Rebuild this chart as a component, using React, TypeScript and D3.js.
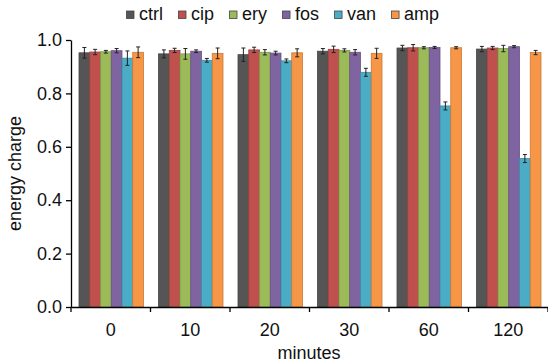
import React, { useRef, useEffect } from "react";
import * as d3 from "d3";

const minutes = ["0", "10", "20", "30", "60", "120"];
const seriesNames = ["ctrl", "cip", "ery", "fos", "van", "amp"];
const seriesColors = ["#555555", "#c0504d", "#9bbb59", "#8064a2", "#4bacc6", "#f79646"];

const ctrl = [0.952, 0.948, 0.945, 0.958, 0.97, 0.966];
const ctrlErr = [0.02, 0.015, 0.025, 0.01, 0.01, 0.01];
const cip = [0.955, 0.961, 0.963, 0.965, 0.971, 0.97];
const cipErr = [0.01, 0.008, 0.01, 0.012, 0.012, 0.006];
const ery = [0.956, 0.948, 0.954, 0.961, 0.971, 0.968];
const eryErr = [0.005, 0.02, 0.01, 0.006, 0.004, 0.012];
const fos = [0.96, 0.958, 0.951, 0.954, 0.972, 0.975];
const fosErr = [0.008, 0.005, 0.007, 0.01, 0.004, 0.004];
const van = [0.932, 0.924, 0.922, 0.879, 0.753, 0.556];
const vanErr = [0.027, 0.007, 0.007, 0.015, 0.015, 0.015];
const amp = [0.954, 0.95, 0.952, 0.95, 0.971, 0.953];
const ampErr = [0.02, 0.02, 0.015, 0.019, 0.004, 0.008];

const yTicks = [0, 0.2, 0.4, 0.6, 0.8, 1.0];

const W = 548;
const H = 363;
const FONT = "'Liberation Sans', Arial, Helvetica, sans-serif";
const FS = "18px";

function App() {
  const svgRef = useRef(null);

  useEffect(() => {
    const values = [ctrl, cip, ery, fos, van, amp];
    const errors = [ctrlErr, cipErr, eryErr, fosErr, vanErr, ampErr];
    const rows = [];
    minutes.forEach((m, i) => {
      seriesNames.forEach((s, j) => {
        rows.push({ m, s, j, v: values[j][i], e: errors[j][i] });
      });
    });

    const svg = d3.select(svgRef.current);
    svg.selectAll("*").remove();

    const x0 = d3.scaleBand().domain(minutes).range([71, 548]).padding(0);
    const x1 = d3
      .scaleBand()
      .domain(seriesNames)
      .range([8, x0.bandwidth() - 7])
      .padding(0);
    const y = d3.scaleLinear().domain([0, 1]).range([307, 40]);
    const color = d3.scaleOrdinal().domain(seriesNames).range(seriesColors);

    // bars
    svg
      .append("g")
      .selectAll("rect")
      .data(rows)
      .join("rect")
      .attr("x", (d) => x0(d.m) + x1(d.s))
      .attr("y", (d) => y(d.v))
      .attr("width", x1.bandwidth())
      .attr("height", (d) => y(0) - y(d.v))
      .attr("fill", (d) => color(d.s))
      .attr("stroke", (d) => d3.color(color(d.s)).darker(0.6))
      .attr("stroke-width", 0.8);

    // error bars
    const eb = svg
      .append("g")
      .attr("stroke", "#222")
      .attr("stroke-width", 1)
      .selectAll("g")
      .data(rows)
      .join("g")
      .attr("transform", (d) => `translate(${x0(d.m) + x1(d.s) + x1.bandwidth() / 2},0)`);
    eb.append("line")
      .attr("y1", (d) => y(d.v + d.e))
      .attr("y2", (d) => y(d.v - d.e));
    eb.append("line")
      .attr("x1", -2)
      .attr("x2", 2)
      .attr("y1", (d) => y(d.v + d.e))
      .attr("y2", (d) => y(d.v + d.e));
    eb.append("line")
      .attr("x1", -2)
      .attr("x2", 2)
      .attr("y1", (d) => y(d.v - d.e))
      .attr("y2", (d) => y(d.v - d.e));

    // y axis
    const yAxis = d3
      .axisLeft(y)
      .tickValues(yTicks)
      .tickFormat(d3.format(".1f"))
      .tickSize(5)
      .tickSizeOuter(0)
      .tickPadding(4);
    const gy = svg.append("g").attr("transform", "translate(71,0)").call(yAxis);
    gy.selectAll("text").style("font-size", FS).style("font-family", FONT).attr("fill", "#111");
    gy.selectAll("line, path").attr("stroke", "#000").attr("stroke-width", 1.3);

    // x axis: labels at centers, ticks at group edges
    const xAxis = d3.axisBottom(x0).tickSize(0).tickSizeOuter(0).tickPadding(16);
    const gx = svg.append("g").attr("transform", "translate(0,307)").call(xAxis);
    gx.selectAll("text").style("font-size", FS).style("font-family", FONT).attr("fill", "#111");
    gx.select(".domain").attr("stroke", "#000").attr("stroke-width", 1.3);
    const edges = minutes.map((m) => x0(m)).concat([x0.range()[1]]);
    gx.selectAll(".edge")
      .data(edges)
      .join("line")
      .attr("class", "edge")
      .attr("x1", (d) => d)
      .attr("x2", (d) => d)
      .attr("y1", 0)
      .attr("y2", 5)
      .attr("stroke", "#000")
      .attr("stroke-width", 1.3);

    // axis titles
    svg
      .append("text")
      .attr("x", 309)
      .attr("y", 359)
      .attr("text-anchor", "middle")
      .style("font-size", FS)
      .style("font-family", FONT)
      .attr("fill", "#111")
      .text("minutes");
    svg
      .append("text")
      .attr("transform", `translate(21,${(y(0) + y(1)) / 2}) rotate(-90)`)
      .attr("text-anchor", "middle")
      .style("font-size", FS)
      .style("font-family", FONT)
      .attr("fill", "#111")
      .text("energy charge");

    // legend
    const legend = svg.append("g").attr("transform", "translate(126,0)");
    let lx = 0;
    seriesNames.forEach((s) => {
      const item = legend.append("g").attr("transform", `translate(${lx},0)`);
      item
        .append("rect")
        .attr("x", 0.5)
        .attr("y", 11)
        .attr("width", 7.5)
        .attr("height", 7.5)
        .attr("fill", color(s))
        .attr("stroke", "#444")
        .attr("stroke-width", 0.8);
      const t = item
        .append("text")
        .attr("x", 13)
        .attr("y", 20)
        .style("font-size", FS)
        .style("font-family", FONT)
        .attr("fill", "#111")
        .text(s);
      const tw = t.node().getComputedTextLength();
      lx += 13 + tw + 15;
    });
  }, []);

  return (
    <svg
      ref={svgRef}
      width={W}
      height={H}
      style={{ position: "absolute", left: 0, top: 0, background: "#fff" }}
    />
  );
}

export default App;
